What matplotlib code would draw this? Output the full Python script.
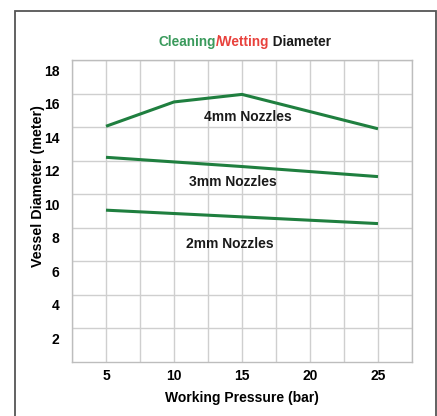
import matplotlib
matplotlib.use("Agg")
import matplotlib.pyplot as plt
import matplotlib.transforms as mtransforms
from matplotlib.patches import Rectangle

plt.rcParams['font.family'] = ['Liberation Sans', 'DejaVu Sans']
plt.rcParams['font.weight'] = 'bold'

# data
pressure_4mm = [5, 10, 15, 25]
diameter_4mm = [14.05, 15.5, 15.95, 13.9]
pressure_3mm = [5, 15, 25]
diameter_3mm = [12.2, 11.65, 11.05]
pressure_2mm = [5, 15, 25]
diameter_2mm = [9.05, 8.65, 8.25]

labels = ["4mm Nozzles", "3mm Nozzles", "2mm Nozzles"]
label_pos = [(15.4, 14.6), (14.3, 10.75), (14.1, 7.05)]

x_ticks = [5, 10, 15, 20, 25]
y_ticks = [2, 4, 6, 8, 10, 12, 14, 16, 18]

GREEN = '#1f7f3f'
GRID = '#cfcfcf'

fig = plt.figure(figsize=(4.37, 4.16), dpi=100)

# outer frame
fig.patches.append(Rectangle((15 / 437, -0.05), 421 / 437, 1.05 - 11 / 416,
                             transform=fig.transFigure, fill=False,
                             edgecolor='#555555', linewidth=1.3))

ax = fig.add_axes([72 / 437, 54 / 416, 340 / 437, 302 / 416])
ax.set_xlim(2.5, 27.5)
ax.set_ylim(0, 18)

for p, d in [(pressure_4mm, diameter_4mm), (pressure_3mm, diameter_3mm),
             (pressure_2mm, diameter_2mm)]:
    ax.plot(p, d, color=GREEN, linewidth=2.2, solid_capstyle='butt', zorder=3)

for lab, (x, y) in zip(labels, label_pos):
    ax.text(x, y, lab, ha='center', va='center', fontsize=10,
            fontweight='bold', color='#1a1a1a')

# grid every 2.5 bar / 2 m
ax.set_xticks([2.5 + 2.5 * i for i in range(11)], minor=True)
ax.set_xticks(x_ticks)
ax.set_yticks(y_ticks)
ax.grid(True, which='both', axis='x', color=GRID, linewidth=1.0)
ax.grid(True, which='major', axis='y', color=GRID, linewidth=1.0)
ax.tick_params(which='both', length=0)
ax.tick_params(axis='x', pad=5, labelsize=10)
ax.tick_params(axis='y', pad=9, labelsize=10)
for s in ax.spines.values():
    s.set_color('#bdbdbd')
    s.set_linewidth(1.0)

ax.set_yticklabels([str(v) for v in y_ticks], fontweight='bold')
ax.set_xticklabels([str(v) for v in x_ticks], fontweight='bold')
offset = mtransforms.ScaledTranslation(0, -10 / 100, fig.dpi_scale_trans)
for lbl in ax.get_yticklabels():
    lbl.set_transform(lbl.get_transform() + offset)

ax.set_xlabel("Working Pressure (bar)", fontsize=10, fontweight='bold')
ax.xaxis.set_label_coords(0.5, -0.096)
ax.set_ylabel("Vessel Diameter (meter)", fontsize=10.3, fontweight='bold')
ax.yaxis.set_label_coords(-0.08, 0.583)

# multi-coloured title
renderer = fig.canvas.get_renderer()
parts = [("Cleaning", '#3a9a5c'), ("/Wetting", '#e8413c'), (" Diameter", '#1a1a1a')]
texts = []
x = 0
for s, c in parts:
    t = fig.text(x, 1 - 42 / 416, s, color=c, fontsize=9.8, fontweight='bold',
                 va='center', ha='left')
    texts.append(t)
widths = [t.get_window_extent(renderer).width / fig.bbox.width for t in texts]
x = 245 / 437 - sum(widths) / 2
for t, w in zip(texts, widths):
    t.set_x(x)
    x += w

fig.savefig("out.png", dpi=100)
